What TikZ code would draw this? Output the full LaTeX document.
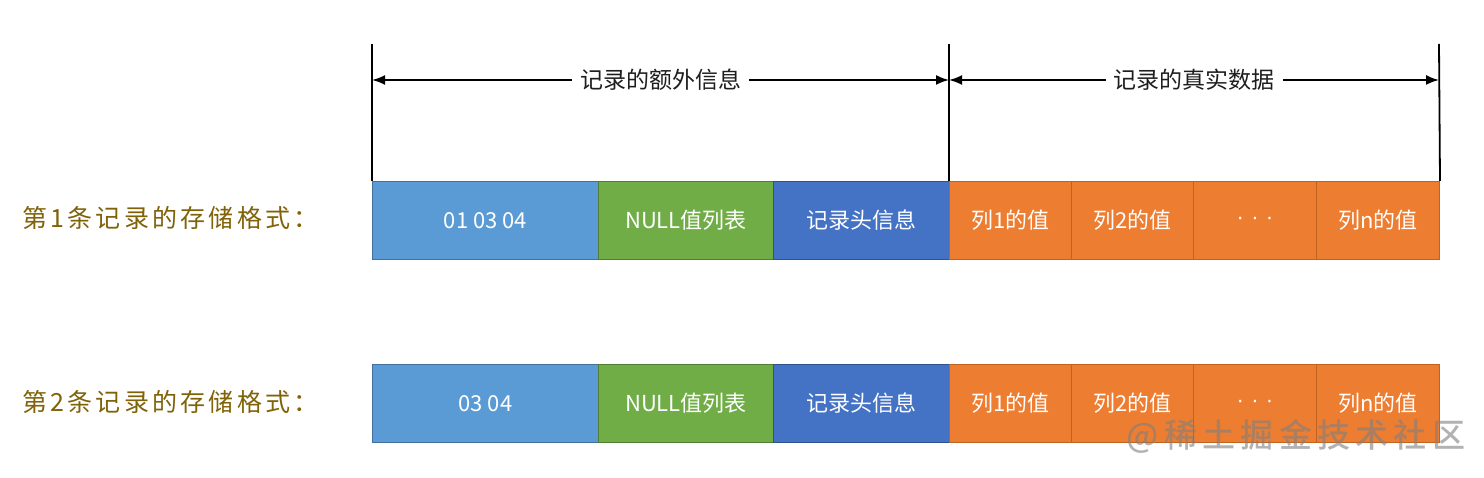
\documentclass[tikz,border=0pt]{standalone}
\usepackage{fontspec}
\newfontfamily\cjk{Noto Sans CJK SC}
\newfontfamily\cjkwide[LetterSpace=13]{Noto Sans CJK SC}
\newfontfamily\wmfont[LetterSpace=16]{Noto Sans CJK SC Medium}
\usetikzlibrary{arrows.meta}
\definecolor{cblue}{HTML}{5B9BD5}
\definecolor{cblueD}{HTML}{41719C}
\definecolor{cgreen}{HTML}{70AD47}
\definecolor{cgreenD}{HTML}{507E32}
\definecolor{cdblue}{HTML}{4472C4}
\definecolor{cdblueD}{HTML}{2F528F}
\definecolor{corange}{HTML}{ED7D31}
\definecolor{corangeD}{HTML}{C0631F}
\definecolor{labelcol}{RGB}{128,98,8}
\definecolor{headcol}{RGB}{30,30,30}
\begin{document}
\begin{tikzpicture}[x=1pt,y=-1pt,
  cellbase/.style={anchor=north west, inner sep=0pt, minimum height=78pt,
    text=white, font=\cjk\fontsize{22}{22}\selectfont, line width=1pt},
  bluecell/.style={cellbase, fill=cblue, draw=cblueD},
  greencell/.style={cellbase, fill=cgreen, draw=cgreenD},
  dbluecell/.style={cellbase, fill=cdblue, draw=cdblueD},
  orangecell/.style={cellbase, fill=corange, draw=corangeD},
  rowlabel/.style={anchor=west, inner sep=0pt, text=labelcol, font=\cjkwide\fontsize{25}{25}\selectfont},
  guide/.style={line width=1.8pt, black},
  span/.style={line width=1.8pt, black, {Latex[length=13pt,width=10pt]}-{Latex[length=13pt,width=10pt]}},
  spanlabel/.style={fill=white, inner xsep=8pt, text=headcol, font=\cjk\fontsize{23}{23}\selectfont},
  watermark/.style={text=gray, opacity=0.6, font=\wmfont\fontsize{33}{33}\selectfont, inner sep=0pt}
]
\useasboundingbox (0,0) rectangle (1484,478);
\fill[white] (0,0) rectangle (1484,478);

% row 1
\node[bluecell, minimum width=226pt] (a1) at (372,181) {01 03 04};
\node[greencell, minimum width=175pt] (a2) at (598,181) {NULL值列表};
\node[dbluecell, minimum width=176pt] (a3) at (773,181) {记录头信息};
\node[orangecell, minimum width=122pt] (a4) at (949,181) {列1的值};
\node[orangecell, minimum width=122pt] (a5) at (1071,181) {列2的值};
\node[orangecell, minimum width=123pt] (a6) at (1193,181) {{\fontspec{Liberation Sans}·\,\,·\,\,·}};
\node[orangecell, minimum width=123pt] (a7) at (1316,181) {列n的值};

% row 2
\node[bluecell, minimum width=226pt] (b1) at (372,364) {03 04};
\node[greencell, minimum width=175pt] (b2) at (598,364) {NULL值列表};
\node[dbluecell, minimum width=176pt] (b3) at (773,364) {记录头信息};
\node[orangecell, minimum width=122pt] (b4) at (949,364) {列1的值};
\node[orangecell, minimum width=122pt] (b5) at (1071,364) {列2的值};
\node[orangecell, minimum width=123pt] (b6) at (1193,364) {{\fontspec{Liberation Sans}·\,\,·\,\,·}};
\node[orangecell, minimum width=123pt] (b7) at (1316,364) {列n的值};

% row labels
\node[rowlabel] (l1) at (22,218) {第1条记录的存储格式：};
\node[rowlabel] (l2) at (22,402) {第2条记录的存储格式：};

% guides
\coordinate (tl) at (372,44);
\coordinate (tm) at (949,44);
\coordinate (tr) at (1439,44);
\draw[guide] (tl) -- (a1.north west);
\draw[guide] (tm) -- (a4.north west);
\draw[guide] (tr) -- (a7.north east);

% spans
\coordinate (sl) at (372,80);
\coordinate (sm) at (949,80);
\coordinate (sr) at (1439,80);
\draw[span] (sl) -- (sm) node[midway, spanlabel] (h1) {记录的额外信息};
\draw[span] (sm) -- (sr) node[midway, spanlabel] (h2) {记录的真实数据};

% watermark
\node[watermark] (wm) at (1296,436) {@稀土掘金技术社区};
\end{tikzpicture}
\end{document}
